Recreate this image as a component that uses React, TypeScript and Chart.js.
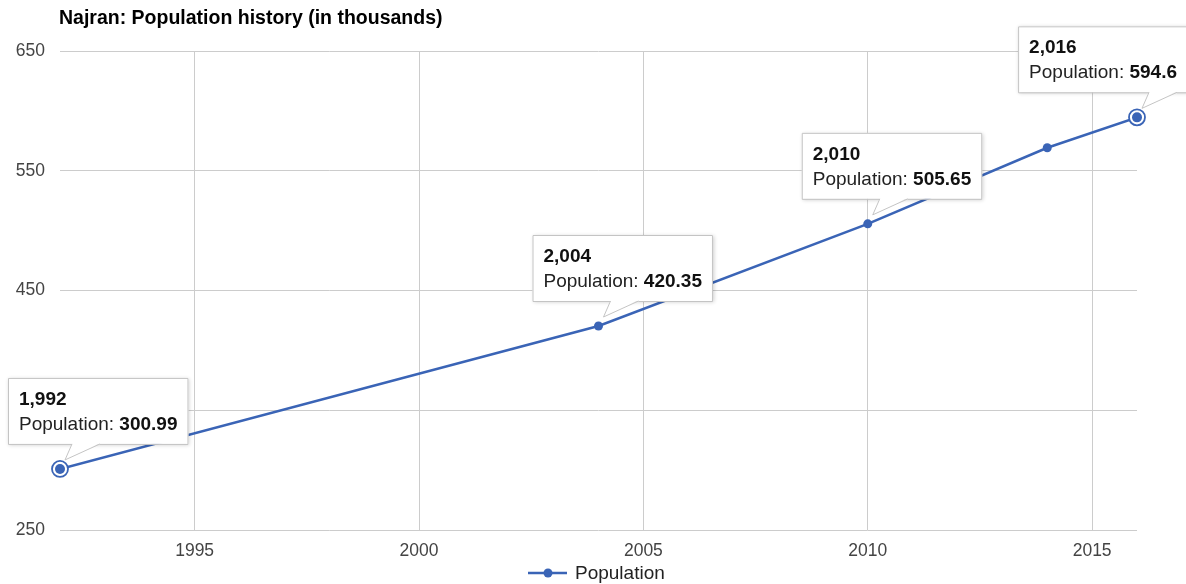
import React, { useEffect, useRef } from "react";
import { Chart, registerables } from "chart.js";

Chart.register(...registerables);

const titleText = "Najran: Population history (in thousands)";
const seriesName = "Population";
const years = [1992, 2004, 2010, 2014, 2016];
const population = [300.99, 420.35, 505.65, 569.2, 594.6];
const yTicks = [250, 350, 450, 550, 650];
const xTicks = [1995, 2000, 2005, 2010, 2015];
const tooltipIdx = [0, 1, 2, 4];
const ringIdx = [0, 4];

const FONT = '"Liberation Sans", Arial, sans-serif';
const BLUE = "#3a64b6";
const TIP = 19;

const overlay = {
  id: "overlay",
  afterDatasetsDraw(chart: any) {
    const ctx = chart.ctx as CanvasRenderingContext2D;
    const xs = chart.scales.x;
    const ys = chart.scales.y;
    const W = chart.width;
    ctx.save();
    // rings
    ringIdx.forEach((i) => {
      const px = xs.getPixelForValue(years[i]);
      const py = ys.getPixelForValue(population[i]);
      ctx.beginPath();
      ctx.arc(px, py, 8, 0, Math.PI * 2);
      ctx.fillStyle = "#ffffff";
      ctx.fill();
      ctx.lineWidth = 1.8;
      ctx.strokeStyle = BLUE;
      ctx.stroke();
      ctx.beginPath();
      ctx.arc(px, py, 5, 0, Math.PI * 2);
      ctx.fillStyle = BLUE;
      ctx.fill();
    });
    // tooltips
    tooltipIdx.forEach((i) => {
      const px = xs.getPixelForValue(years[i]);
      const py = ys.getPixelForValue(population[i]);
      const t1 = years[i].toLocaleString("en-US");
      const lab = seriesName + ": ";
      const val = String(population[i]);
      ctx.font = "bold " + TIP + "px " + FONT;
      const wT1 = ctx.measureText(t1).width;
      const wVal = ctx.measureText(val).width;
      ctx.font = TIP + "px " + FONT;
      const wLab = ctx.measureText(lab).width;
      const pad = 11;
      const bw = Math.max(wT1, wLab + wVal) + pad * 2;
      const bh = 66;
      let bx = px - 66;
      if (bx < 8) bx = 8;
      if (bx + bw > W + 2) bx = W + 2 - bw;
      const by = py - 25 - bh;
      ctx.save();
      ctx.shadowColor = "rgba(0,0,0,0.2)";
      ctx.shadowBlur = 4;
      ctx.shadowOffsetX = 1;
      ctx.shadowOffsetY = 1;
      ctx.fillStyle = "#ffffff";
      ctx.fillRect(bx, by, bw, bh);
      ctx.restore();
      const baseY = by + bh;
      const b1 = px + 12;
      const b2 = px + 40;
      const ax = px + 5;
      const ay = py - 9;
      ctx.beginPath();
      ctx.moveTo(b1, baseY - 1);
      ctx.lineTo(ax, ay);
      ctx.lineTo(b2, baseY - 1);
      ctx.closePath();
      ctx.fillStyle = "#ffffff";
      ctx.fill();
      ctx.strokeStyle = "#c4c4c4";
      ctx.lineWidth = 1;
      ctx.beginPath();
      ctx.moveTo(b1, baseY);
      ctx.lineTo(ax, ay);
      ctx.lineTo(b2, baseY);
      ctx.stroke();
      ctx.beginPath();
      ctx.moveTo(b1, baseY + 0.5);
      ctx.lineTo(bx + 0.5, baseY + 0.5);
      ctx.lineTo(bx + 0.5, by + 0.5);
      ctx.lineTo(bx + bw - 0.5, by + 0.5);
      ctx.lineTo(bx + bw - 0.5, baseY + 0.5);
      ctx.lineTo(b2, baseY + 0.5);
      ctx.stroke();
      ctx.textBaseline = "alphabetic";
      ctx.textAlign = "left";
      ctx.fillStyle = "#111111";
      ctx.font = "bold " + TIP + "px " + FONT;
      ctx.fillText(t1, bx + pad, by + 27);
      ctx.fillStyle = "#222222";
      ctx.font = TIP + "px " + FONT;
      ctx.fillText(lab, bx + pad, by + 52);
      ctx.fillStyle = "#111111";
      ctx.font = "bold " + TIP + "px " + FONT;
      ctx.fillText(val, bx + pad + wLab, by + 52);
    });
    // title
    ctx.fillStyle = "#000000";
    ctx.font = "bold 19.5px " + FONT;
    ctx.textAlign = "left";
    ctx.textBaseline = "alphabetic";
    ctx.fillText(titleText, chart.chartArea.left - 1, 24);
    // legend
    const ly = 573;
    ctx.strokeStyle = BLUE;
    ctx.lineWidth = 2.5;
    ctx.beginPath();
    ctx.moveTo(528, ly);
    ctx.lineTo(567, ly);
    ctx.stroke();
    ctx.beginPath();
    ctx.arc(548, ly, 4.5, 0, Math.PI * 2);
    ctx.fillStyle = BLUE;
    ctx.fill();
    ctx.fillStyle = "#222222";
    ctx.font = "19px " + FONT;
    ctx.textBaseline = "middle";
    ctx.fillText(seriesName, 575, ly + 1);
    ctx.restore();
  },
};

export default function App() {
  const ref = useRef<HTMLCanvasElement | null>(null);
  useEffect(() => {
    document.body.style.margin = "0";
    const chart = new Chart(ref.current as HTMLCanvasElement, {
      type: "line",
      data: {
        datasets: [
          {
            label: seriesName,
            data: years.map((y, i) => ({ x: y, y: population[i] })),
            borderColor: BLUE,
            backgroundColor: BLUE,
            borderWidth: 2.5,
            pointRadius: 4.5,
            pointBorderWidth: 0,
            pointBackgroundColor: BLUE,
            tension: 0,
          },
        ],
      },
      options: {
        responsive: false,
        animation: false,
        layout: { padding: { top: 51, right: 49, left: 0, bottom: 0 } },
        plugins: {
          legend: { display: false },
          tooltip: { enabled: false },
          title: { display: false },
        },
        scales: {
          x: {
            type: "linear",
            min: 1992,
            max: 2016,
            afterBuildTicks: (axis: any) => {
              axis.ticks = xTicks.map((v) => ({ value: v }));
            },
            afterFit: (axis: any) => {
              axis.height = 54;
            },
            grid: { color: "#cccccc", drawTicks: false },
            border: { display: false },
            ticks: {
              padding: 11,
              color: "#444444",
              font: { family: FONT, size: 17.5 },
              callback: (v: any) => String(v),
              maxRotation: 0,
            },
          },
          y: {
            min: 250,
            max: 650,
            afterBuildTicks: (axis: any) => {
              axis.ticks = yTicks.map((v) => ({ value: v }));
            },
            afterFit: (axis: any) => {
              axis.width = 60;
            },
            grid: { color: "#cccccc", drawTicks: false },
            border: { display: false },
            ticks: {
              padding: 15,
              color: "#444444",
              font: { family: FONT, size: 17.5 },
              callback: (v: any) => String(v),
            },
          },
        },
      },
      plugins: [overlay],
    });
    return () => chart.destroy();
  }, []);
  return (
    <div style={{ position: "absolute", left: 0, top: 0, width: 1186, height: 584 }}>
      <canvas ref={ref} width={1186} height={584} />
    </div>
  );
}
